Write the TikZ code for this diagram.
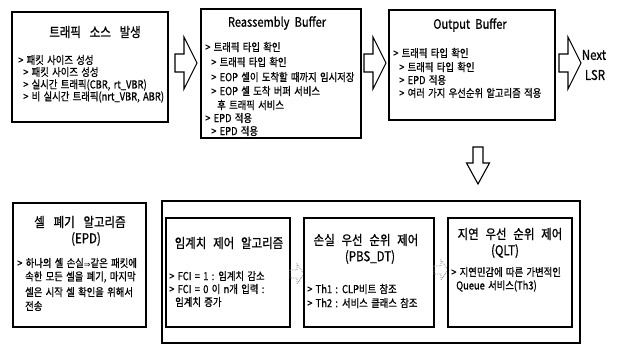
\documentclass[tikz,border=0pt]{standalone}
\usepackage{fontspec}
\setmainfont{Noto Sans CJK KR}[FakeStretch=0.85, FakeBold=0.8]
\newfontfamily\symfont{DejaVu Sans}
\newcommand\bodyfont{\fontsize{11}{12}\selectfont\spaceskip=0.3em plus 0.1em\relax}
\newcommand\titlefont{\fontsize{13.5}{16}\selectfont\spaceskip=0.5em\relax}
\newcommand\widetitlefont{\fontsize{13.5}{16}\selectfont\spaceskip=0.65em\relax}
\newcommand\latintitlefont{\fontsize{13}{16}\selectfont\spaceskip=0.4em\relax}
\tikzset{
  box/.style={draw, line width=1.1pt, inner sep=0pt, outer sep=0pt},
  txt/.style={anchor=west, inner sep=0pt, font=\bodyfont},
  ttl/.style={anchor=center, inner sep=0pt, font=\titlefont},
  wttl/.style={anchor=center, inner sep=0pt, font=\widetitlefont},
  lttl/.style={anchor=center, inner sep=0pt, font=\latintitlefont},
  rarrow/.pic={\draw[line width=1.1pt, line join=miter]
     (0,-9) -- (9,-9) -- (9,-26) -- (22,0) -- (9,26) -- (9,9) -- (0,9) -- cycle;},
  darrow/.pic={\draw[line width=1.1pt, line join=miter]
     (-5,0) -- (5,0) -- (5,16) -- (11.5,16) -- (0,37) -- (-11.5,16) -- (-5,16) -- cycle;},
  farrow/.pic={\draw[gray, line width=0.8pt, densely dotted]
     (0,-4) -- (7,-4) -- (7,-10) -- (14,0) -- (7,10) -- (7,4) -- (0,4) -- cycle;},
}
\begin{document}
\begin{tikzpicture}[x=1pt, y=-1pt]
\useasboundingbox (0,0) rectangle (621,345);

% ---------- top row ----------
\node[box, minimum width=156pt, minimum height=110pt] (src) at (90,67) {};
\node[wttl] (srct) at (95,32) {트래픽 소스 발생};
\node[txt] (s1) at (18,60) {> 패킷 사이즈 성성};
\node[txt] (s2) at (23,72) {> 패킷 사이즈 성성};
\node[txt] (s3) at (23,85) {> 실시간 트래픽(CBR, rt\_VBR)};
\node[txt] (s4) at (23,97) {> 비 실시간 트래픽(nrt\_VBR, ABR)};

\pic at (175,63) {rarrow};

\node[box, minimum width=160pt, minimum height=129pt] (rb) at (281,73.5) {};
\node[lttl] (rbt) at (277,23) {Reassembly Buffer};
\node[txt] (r1) at (205,47) {> 트래픽 타입 확인};
\node[txt] (r2) at (211,62) {> 트래픽 타입 확인};
\node[txt] (r3) at (211,77) {> EOP 셀이 도착할 때까지 임시저장};
\node[txt] (r4) at (211,91) {> EOP 셀 도착 버퍼 서비스};
\node[txt] (r5) at (217,105) {후 트래픽 서비스};
\node[txt] (r6) at (205,118) {> EPD 적용};
\node[txt] (r7) at (211,131) {> EPD 적용};

\pic at (364,63) {rarrow};

\node[box, minimum width=166pt, minimum height=110pt] (ob) at (472,65) {};
\node[lttl] (obt) at (470,25) {Output Buffer};
\node[txt] (o1) at (393,53) {> 트래픽 타입 확인};
\node[txt] (o2) at (399,67) {> 트래픽 타입 확인};
\node[txt] (o3) at (399,80) {> EPD 적용};
\node[txt] (o4) at (399,93) {> 여러 가지 우선순위 알고리즘 적용};

\pic at (559,63) {rarrow};
\node[lttl, font=\fontsize{13.5}{15}\selectfont] (nx) at (594,55) {Next};
\node[lttl, font=\fontsize{13.5}{15}\selectfont] (lsr) at (595,75) {LSR};

\pic at (478,147) {darrow};

% ---------- bottom row ----------
\node[box, minimum width=133pt, minimum height=124pt] (epd) at (79.5,265) {};
\node[wttl] (epdt) at (80,222) {셀 폐기 알고리즘};
\node[ttl] (epdt2) at (86,239) {(EPD)};
\node[txt] (e1) at (17,263) {> 하나의 셀 손실{\symfont\fontsize{8}{10}\selectfont ⇒}같은 패킷에};
\node[txt] (e2) at (25,277) {속한 모든 셀을 폐기, 마지막};
\node[txt] (e3) at (25,292) {셀은 시작 셀 확인을 위해서};
\node[txt] (e4) at (25,306) {전송};

\node[box, minimum width=418pt, minimum height=142pt] (ctl) at (371,272) {};

\node[box, minimum width=124pt, minimum height=109pt] (thr) at (228,272.5) {};
\node[ttl] (thrt) at (229,243) {임계치 제어 알고리즘};
\node[txt] (h1) at (169,276) {> FCI = 1 : 임계치 감소};
\node[txt] (h2) at (169,289) {> FCI = 0 이 n개 입력 :};
\node[txt] (h3) at (175,302) {임계치 증가};

\pic at (290,274) {farrow};

\node[box, minimum width=130pt, minimum height=109pt] (pbs) at (369,272.5) {};
\node[ttl] (pbst) at (366,240) {손실 우선 순위 제어};
\node[ttl] (pbst2) at (370,257) {(PBS\_DT)};
\node[txt] (p1) at (307,289) {> Th1 : CLP비트 참조};
\node[txt] (p2) at (307,303) {> Th2 : 서비스 클래스 참조};

\pic at (434,270) {farrow};

\node[box, minimum width=124pt, minimum height=109pt] (qlt) at (510,272.5) {};
\node[ttl] (qltt) at (510,234) {지연 우선 순위 제어};
\node[ttl] (qltt2) at (505,251) {(QLT)};
\node[txt] (q1) at (451,272) {> 지연민감에 따른 가변적인};
\node[txt] (q2) at (456,286) {Queue 서비스(Th3)};
\end{tikzpicture}
\end{document}
